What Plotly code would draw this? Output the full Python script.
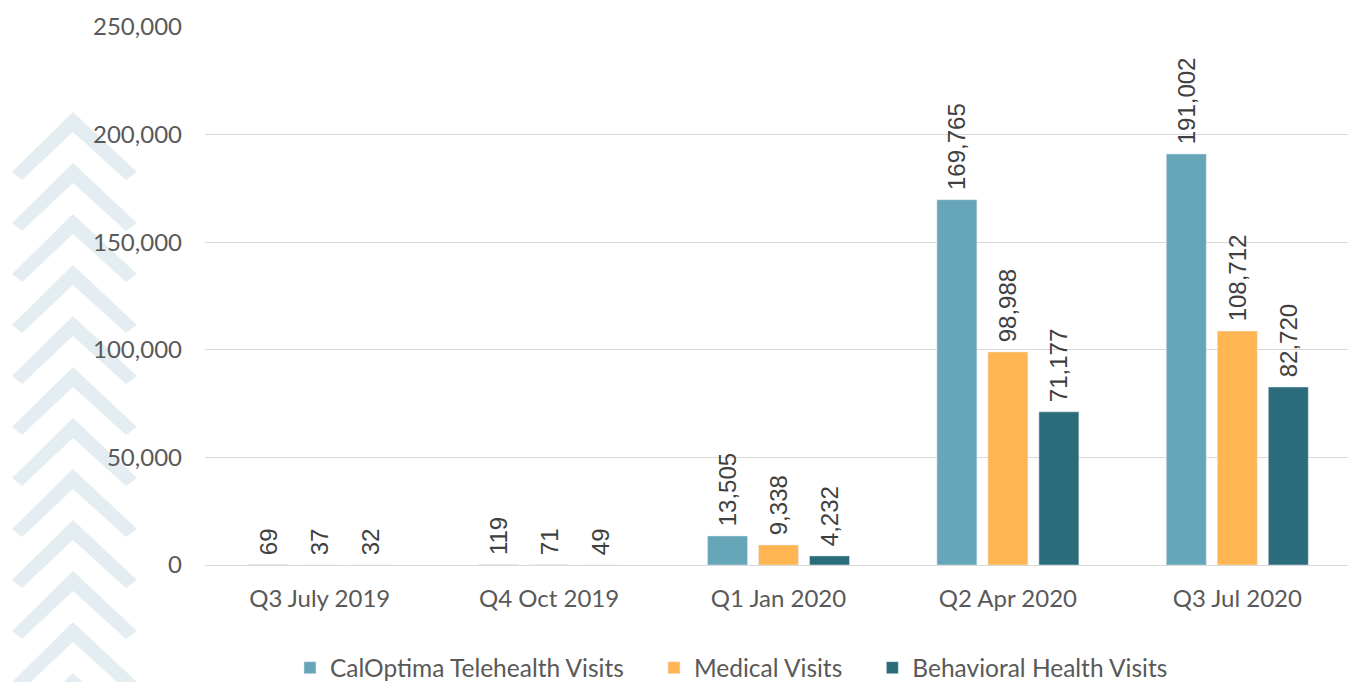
import plotly.graph_objects as go

quarters = ["Q3 July 2019", "Q4 Oct 2019", "Q1 Jan 2020", "Q2 Apr 2020", "Q3 Jul 2020"]
telehealth = [69, 119, 13505, 169765, 191002]
medical = [37, 71, 9338, 98988, 108712]
behavioral = [32, 49, 4232, 71177, 82720]

series_names = ["CalOptima Telehealth Visits", "Medical Visits", "Behavioral Health Visits"]
series_colors = ["#67A6B8", "#FFB652", "#2B6B7A"]
legend_pad = [4, 4, 0]

# the page body has an 8px margin, so figure px = page px - 8
OFF = 8
W, H = 1356, 682
ML, MR, MT, MB = 205 - OFF, 12, 27 - OFF, 125
PW, PH = W - ML - MR, H - MT - MB


def px_to_paper(x, y):
    x, y = x - OFF, y - OFF
    return (x - ML) / PW, (H - MB - y) / PH


def chevron_path(top):
    pts = [(12, top + 60), (73, top), (137, top + 60), (126, top + 68), (73, top + 20), (22, top + 68)]
    coords = [px_to_paper(x, y) for x, y in pts]
    return "M " + " L ".join(f"{x:.4f},{y:.4f}" for x, y in coords) + " Z"


fig = go.Figure()
for name, values, color, pad in zip(series_names, [telehealth, medical, behavioral], series_colors, legend_pad):
    fig.add_trace(go.Bar(
        x=quarters, y=values,
        name=name + "\u00a0" * pad,
        marker=dict(color=color),
        text=[f"\u00a0{v:,}" for v in values],
        textposition="outside", textangle=-90, constraintext="none",
        textfont=dict(family="Liberation Sans, Arial", size=24, color="#404040"),
        cliponaxis=False,
    ))

shapes = []
for i in range(12):
    shapes.append(dict(
        type="path", path=chevron_path(112 + i * 51),
        xref="paper", yref="paper", fillcolor="#E4EEF2", line=dict(width=0), layer="below",
    ))

fig.update_layout(
    width=W, height=H,
    margin=dict(l=ML, r=MR, t=MT, b=MB, autoexpand=False),
    paper_bgcolor="white", plot_bgcolor="rgba(0,0,0,0)",
    barmode="group", bargap=0.333, bargroupgap=0.216,
    font=dict(family="Lato, Open Sans, sans-serif", size=24, color="#595959"),
    xaxis=dict(showgrid=False, showline=True, linecolor="#D9D9D9", linewidth=1, automargin=False,
               tickfont=dict(size=24, color="#595959"), ticks="", ticklabelstandoff=12),
    yaxis=dict(range=[0, 250000], dtick=50000, tickformat=",", showgrid=True, automargin=False,
               gridcolor="#D9D9D9", gridwidth=1, zeroline=False, showline=False,
               tickfont=dict(size=24, color="#595959"), ticklabelstandoff=22),
    legend=dict(orientation="h", x=0.459, xanchor="center", y=-0.191, yanchor="middle",
                font=dict(size=24.5, color="#595959")),
    shapes=shapes,
)

fig.write_html("out.html")
